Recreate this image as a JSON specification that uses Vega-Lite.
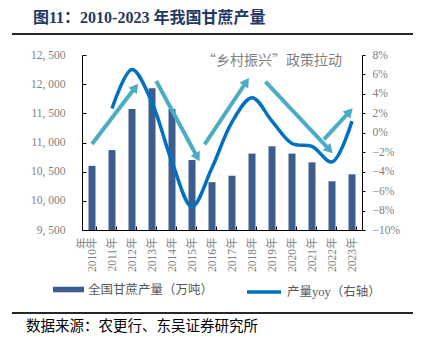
{
  "$schema": "https://vega.github.io/schema/vega-lite/v6.json",
  "width": 280,
  "height": 175,
  "autosize": {"type": "none"},
  "padding": {"left": 82, "top": 55, "right": 63, "bottom": 118},
  "background": "white",
  "config": {"view": {"stroke": null}, "font": "Liberation Serif, Noto Sans CJK SC"},
  "datasets": {
    "sugar": [
      {"year": 2010, "production": 10600, "yoy": null},
      {"year": 2011, "production": 10870, "yoy": 0.025},
      {"year": 2012, "production": 11575, "yoy": 0.065},
      {"year": 2013, "production": 11930, "yoy": 0.031},
      {"year": 2014, "production": 11575, "yoy": -0.030},
      {"year": 2015, "production": 10700, "yoy": -0.076},
      {"year": 2016, "production": 10320, "yoy": -0.036},
      {"year": 2017, "production": 10430, "yoy": 0.011},
      {"year": 2018, "production": 10810, "yoy": 0.036},
      {"year": 2019, "production": 10935, "yoy": 0.012},
      {"year": 2020, "production": 10810, "yoy": -0.011},
      {"year": 2021, "production": 10660, "yoy": -0.014},
      {"year": 2022, "production": 10335, "yoy": -0.030},
      {"year": 2023, "production": 10455, "yoy": 0.012}
    ],
    "arrows": [
      {"x1": 2010.0, "y1": -0.0115, "x2": 2012.17, "y2": 0.0468},
      {"x1": 2013.21, "y1": 0.0533, "x2": 2015.27, "y2": -0.0252},
      {"x1": 2015.63, "y1": -0.0119, "x2": 2017.72, "y2": 0.0525},
      {"x1": 2018.67, "y1": 0.0525, "x2": 2021.88, "y2": -0.0177},
      {"x1": 2021.6, "y1": -0.0067, "x2": 2022.88, "y2": 0.0217}
    ],
    "frame": [
      {"line": "header", "label": "图11：2010-2023 年我国甘蔗产量"},
      {"line": "footer", "label": "数据来源：农更行、东吴证券研究所"}
    ]
  },
  "layer": [
    {
      "data": {"name": "sugar"},
      "mark": {"type": "bar"},
      "encoding": {
        "x": {
          "field": "year", "type": "ordinal",
          "scale": {"paddingInner": 0.65, "paddingOuter": 0.325},
          "axis": {
            "title": null,
            "labelExpr": "datum.label + '年'",
            "labelAngle": 270,
            "labelFont": "Liberation Serif, Noto Sans CJK SC",
            "labelFontSize": 11.5,
            "labelColor": "#7F7F7F",
            "labelPadding": 11,
            "tickBand": "extent",
            "tickSize": -4,
            "tickColor": "#000000",
            "domainColor": "#000000",
            "domainWidth": 1
          }
        },
        "y": {
          "field": "production", "type": "quantitative",
          "scale": {"domain": [9500, 12500], "zero": false, "nice": false},
          "axis": {
            "orient": "left",
            "title": null,
            "values": [9500, 10000, 10500, 11000, 11500, 12000, 12500],
            "labelExpr": "replace(format(datum.value, ','), ',', ', ')",
            "labelFont": "Liberation Serif",
            "labelFontSize": 11.5,
            "labelColor": "#7F7F7F",
            "labelPadding": 21,
            "tickSize": -4,
            "tickColor": "#000000",
            "domainColor": "#000000",
            "grid": false
          }
        },
        "y2": {"datum": 9500},
        "fill": {
          "datum": "全国甘蔗产量（万吨）",
          "type": "nominal",
          "scale": {"range": ["#3B5E8F"]},
          "legend": {
            "title": null,
            "orient": "none",
            "legendX": -29,
            "legendY": 219,
            "padding": 0,
            "symbolType": "M-1,-0.18H1V0.18H-1Z",
            "symbolSize": 961,
            "symbolStrokeWidth": 0,
            "labelFont": "Noto Sans CJK SC",
            "labelFontSize": 12.5,
            "labelColor": "#595959",
            "labelOffset": 4
          }
        }
      }
    },
    {
      "data": {"name": "sugar"},
      "mark": {"type": "line", "interpolate": "catmull-rom", "strokeWidth": 3.5},
      "encoding": {
        "x": {
          "field": "year", "type": "ordinal",
          "scale": {"paddingInner": 0.65, "paddingOuter": 0.325},
          "axis": null
        },
        "y": {
          "field": "yoy", "type": "quantitative",
          "scale": {"domain": [-0.10, 0.08], "zero": false, "nice": false},
          "axis": {
            "orient": "right",
            "title": null,
            "values": [-0.10, -0.08, -0.06, -0.04, -0.02, 0, 0.02, 0.04, 0.06, 0.08],
            "format": ".0%",
            "labelFont": "Liberation Serif",
            "labelFontSize": 11.5,
            "labelColor": "#7F7F7F",
            "labelPadding": 7,
            "tickSize": 3,
            "tickColor": "#000000",
            "domainColor": "#000000",
            "grid": false
          }
        },
        "stroke": {
          "datum": "产量yoy（右轴）",
          "type": "nominal",
          "scale": {"range": ["#0070C0"]},
          "legend": {
            "title": null,
            "orient": "none",
            "legendX": 163,
            "legendY": 218,
            "padding": 0,
            "symbolType": "M-1,0H1",
            "symbolSize": 1156,
            "symbolStrokeWidth": 3.5,
            "labelFont": "Liberation Serif, Noto Sans CJK SC",
            "labelFontSize": 12.5,
            "labelColor": "#595959",
            "labelOffset": 4
          }
        }
      }
    },
    {
      "layer": [
        {
          "data": {"name": "arrows"},
          "mark": {"type": "rule", "strokeWidth": 4, "color": "#4BACC6"},
          "encoding": {
            "x": {"field": "x1", "type": "quantitative", "scale": {"domain": [2009.5, 2023.5], "zero": false, "nice": false}, "axis": null},
            "x2": {"field": "x2"},
            "y": {"field": "y1", "type": "quantitative", "scale": {"domain": [-0.10, 0.08], "zero": false, "nice": false}, "axis": null},
            "y2": {"field": "y2"}
          }
        },
        {
          "data": {"name": "arrows"},
          "transform": [
            {"calculate": "atan2((datum.x2 - datum.x1) * 20, (datum.y2 - datum.y1) * 972.2) * 180 / PI", "as": "angle"}
          ],
          "mark": {"type": "point", "shape": "triangle-up", "filled": true, "size": 110, "color": "#4BACC6", "opacity": 1},
          "encoding": {
            "x": {"field": "x2", "type": "quantitative"},
            "y": {"field": "y2", "type": "quantitative"},
            "angle": {"field": "angle", "type": "quantitative", "scale": null}
          }
        },
        {
          "data": {"values": [{"label": "“乡村振兴”政策拉动", "year": 2019, "yoy": 0.0738}]},
          "mark": {"type": "text", "font": "Noto Sans CJK SC", "fontSize": 14, "color": "#7F7F7F", "align": "center", "baseline": "middle"},
          "encoding": {
            "x": {"field": "year", "type": "quantitative"},
            "y": {"field": "yoy", "type": "quantitative"},
            "text": {"field": "label"}
          }
        },
        {
          "data": {"name": "frame"},
          "transform": [{"filter": "datum.line === 'header'"}],
          "mark": {"type": "rule", "strokeWidth": 2, "color": "#262626"},
          "encoding": {
            "x": {"datum": 2006.0, "type": "quantitative"},
            "x2": {"datum": 2026.05},
            "y": {"datum": 0.1016, "type": "quantitative"},
            "y2": {"datum": 0.1016}
          }
        },
        {
          "data": {"name": "frame"},
          "transform": [{"filter": "datum.line === 'footer'"}],
          "mark": {"type": "rule", "strokeWidth": 2, "color": "#262626"},
          "encoding": {
            "x": {"datum": 2006.0, "type": "quantitative"},
            "x2": {"datum": 2026.05},
            "y": {"datum": -0.1854, "type": "quantitative"},
            "y2": {"datum": -0.1854}
          }
        }
      ]
    },
    {
      "data": {"name": "frame"},
      "transform": [{"filter": "datum.line === 'header'"}],
      "mark": {"type": "text", "font": "Liberation Serif, Noto Sans CJK SC", "fontSize": 16, "fontWeight": "bold", "color": "#1F3864", "align": "left", "baseline": "middle", "dx": 21, "dy": -16},
      "encoding": {
        "x": {"datum": 0, "type": "quantitative", "scale": {"domain": [0, 1], "range": [-70, 331], "zero": false, "nice": false}, "axis": null},
        "y": {"datum": 0, "type": "quantitative", "scale": {"domain": [0, 1], "range": [-21, 258], "zero": false, "nice": false}, "axis": null},
        "text": {"field": "label"}
      }
    },
    {
      "data": {"name": "frame"},
      "transform": [{"filter": "datum.line === 'footer'"}],
      "mark": {"type": "text", "font": "Noto Sans CJK SC", "fontSize": 14.5, "color": "#000000", "align": "left", "baseline": "middle", "dx": 14, "dy": 14},
      "encoding": {
        "x": {"datum": 0, "type": "quantitative", "scale": {"domain": [0, 1], "range": [-70, 331], "zero": false, "nice": false}, "axis": null},
        "y": {"datum": 1, "type": "quantitative", "scale": {"domain": [0, 1], "range": [-21, 258], "zero": false, "nice": false}, "axis": null},
        "text": {"field": "label"}
      }
    }
  ],
  "resolve": {"scale": {"x": "independent", "y": "independent"}}
}
